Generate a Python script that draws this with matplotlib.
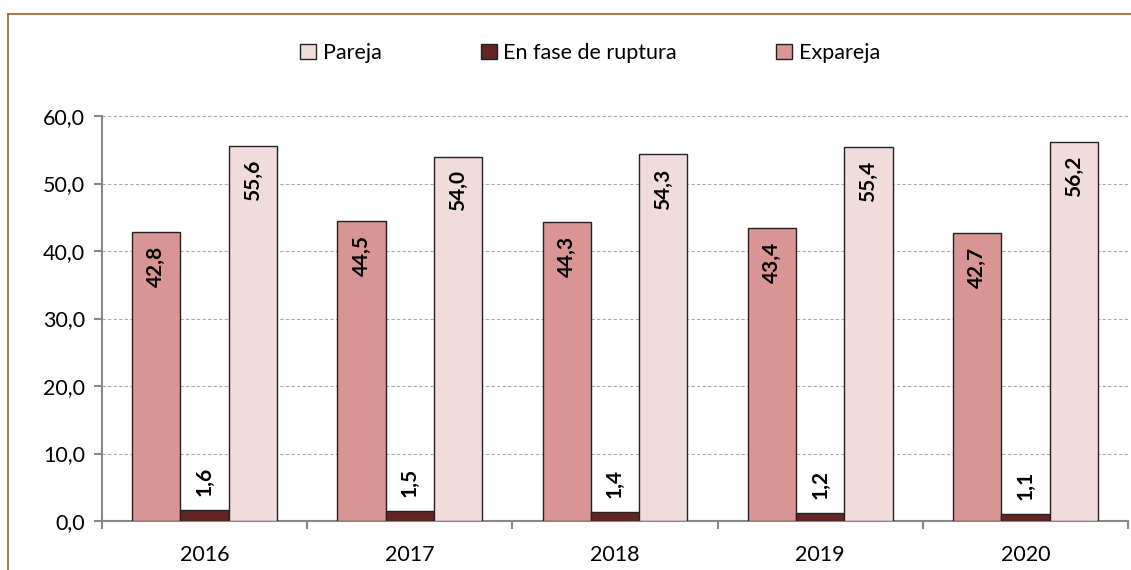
import matplotlib
matplotlib.use("Agg")
import matplotlib.pyplot as plt
import numpy as np
from matplotlib.lines import Line2D

years = ["2016", "2017", "2018", "2019", "2020"]
expareja = [42.8, 44.5, 44.3, 43.4, 42.7]
en_fase = [1.6, 1.5, 1.4, 1.2, 1.1]
pareja = [55.6, 54.0, 54.3, 55.4, 56.2]

series = [("Expareja", expareja, "#D99594"),
          ("En fase de ruptura", en_fase, "#632523"),
          ("Pareja", pareja, "#F2DCDB")]

plt.rcParams['font.family'] = ['Lato', 'DejaVu Sans']

fig = plt.figure(figsize=(11.31, 5.70), dpi=100)
ax = fig.add_axes([102/1131, 1-521/570, 1026/1131, 405/570])

x = np.arange(len(years))
w = 0.235
handles = {}
for i, (name, vals, col) in enumerate(series):
    pos = x + (i - 1) * w
    b = ax.bar(pos, vals, w, color=col, edgecolor="#222222", linewidth=1.0, zorder=3, label=name)
    handles[name] = b
    for px, v in zip(pos, vals):
        lbl = f"{v:.1f}".replace(".", ",")
        if v > 10:
            ax.annotate(lbl, (px, v), xytext=(0, -10), textcoords="offset points",
                        ha="center", va="top", rotation=90, fontsize=15,
                        fontweight="bold", color="black", zorder=4)
        else:
            ax.annotate(lbl, (px, v), xytext=(0, 10), textcoords="offset points",
                        ha="center", va="bottom", rotation=90, fontsize=15,
                        fontweight="bold", color="black", zorder=4)

ax.set_xlim(-0.5, len(years) - 0.5)
ax.set_ylim(0, 60)
ax.set_yticks(np.arange(0, 61, 10))
ax.set_yticklabels([f"{t:.1f}".replace(".", ",") for t in np.arange(0, 61, 10)], fontsize=15.5)
ax.set_xticks(x)
ax.set_xticklabels(years, fontsize=15.5)
ax.set_xticks(np.arange(-0.5, len(years), 1), minor=True)
ax.tick_params(axis="x", which="major", length=0, pad=17)
ax.tick_params(axis="x", which="minor", length=6, width=1.5, color="#888888")
ax.tick_params(axis="y", length=6, width=1.5, color="#888888", pad=6)
ax.grid(axis="y", linestyle=(0, (3, 2)), color="#AAAAAA", linewidth=0.8, zorder=0)
for s in ["top", "right"]:
    ax.spines[s].set_visible(False)
for s in ["left", "bottom"]:
    ax.spines[s].set_color("#888888")
    ax.spines[s].set_linewidth(1.5)

order = ["Pareja", "En fase de ruptura", "Expareja"]
leg = fig.legend([handles[n] for n in order], order, loc="center", bbox_to_anchor=(590/1131, 1-53/570),
                 ncol=3, frameon=False, fontsize=15.5, handlelength=0.75, handleheight=0.75,
                 columnspacing=4.6, handletextpad=0.3)

# outer brown frame
fc = "#A0602D"
fig.add_artist(Line2D([8/1131, 8/1131], [0, 1-14/570], color=fc, linewidth=1.2, transform=fig.transFigure))
fig.add_artist(Line2D([8/1131, 1], [1-14/570, 1-14/570], color=fc, linewidth=1.2, transform=fig.transFigure))

fig.savefig("out.png", dpi=100)
